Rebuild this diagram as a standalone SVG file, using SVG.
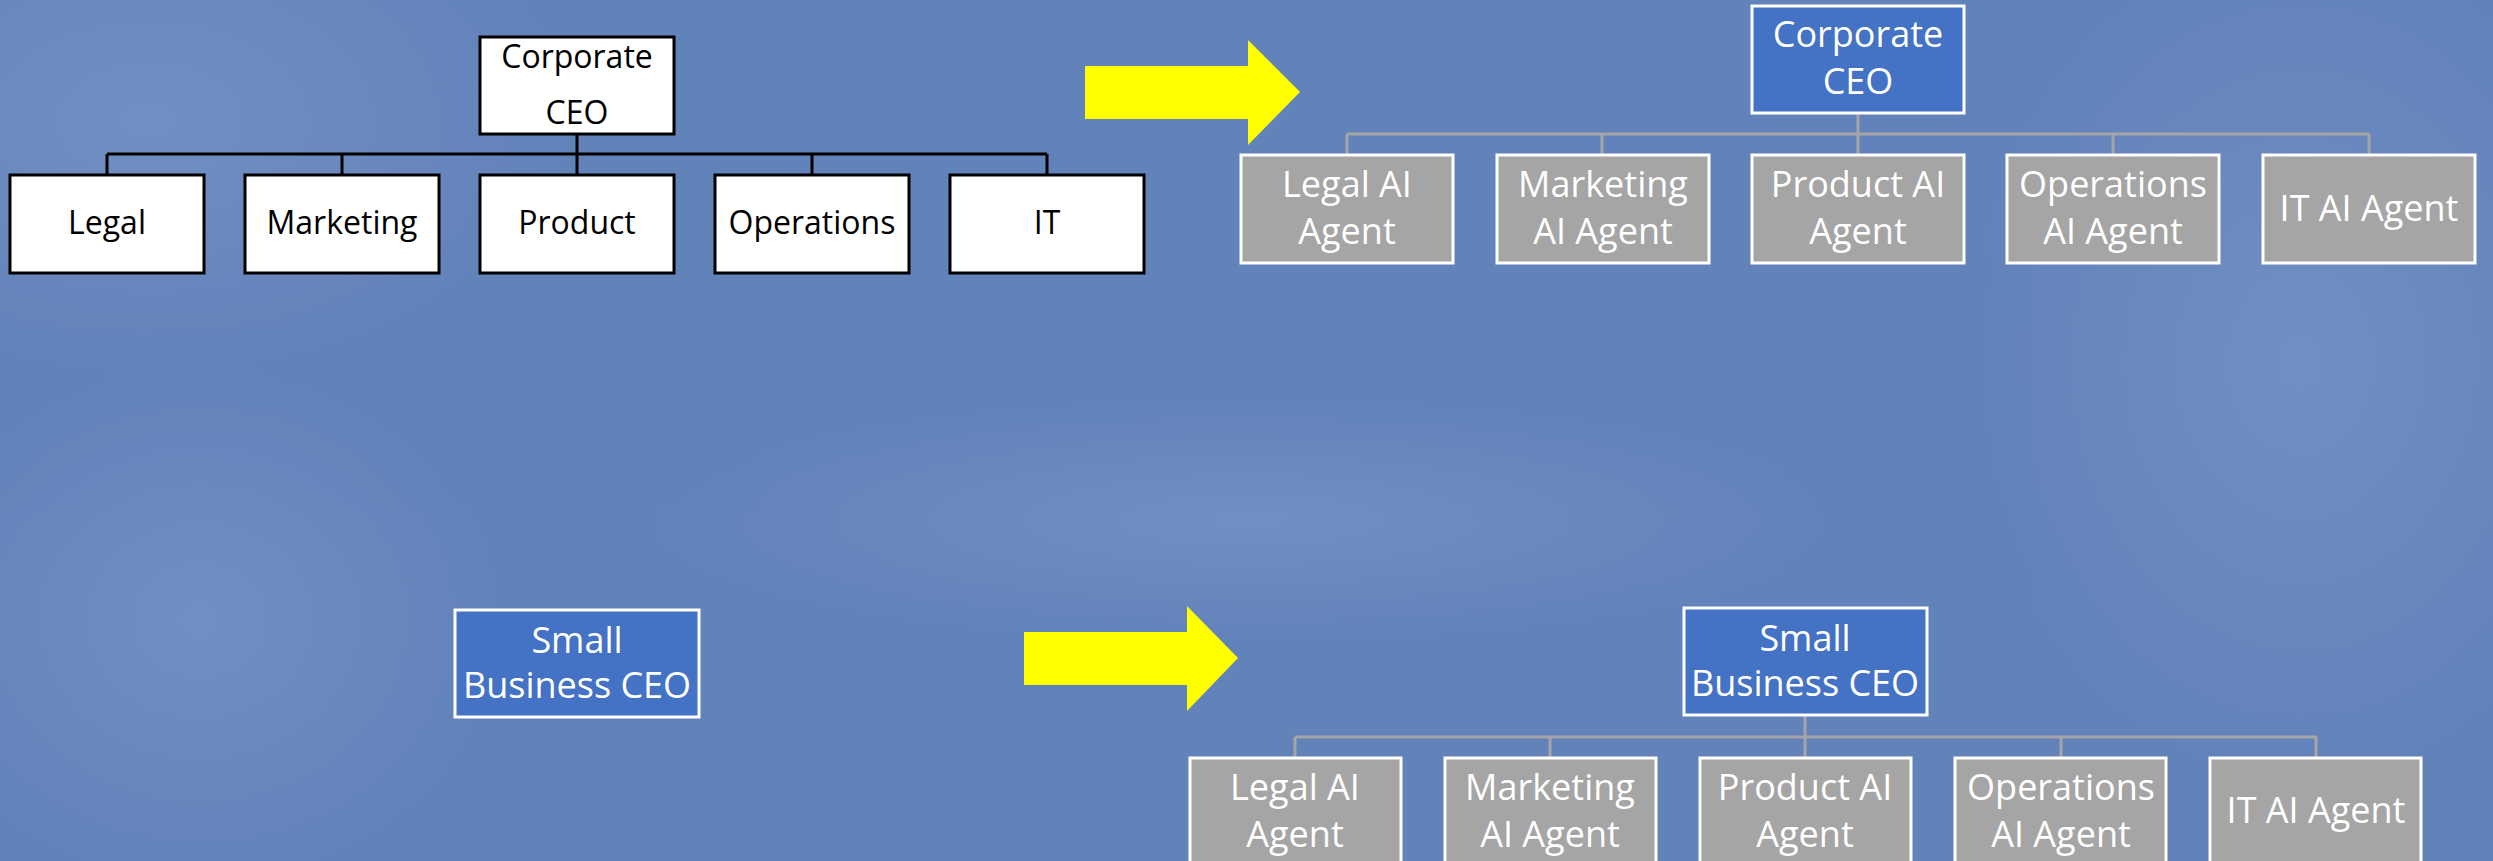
<svg xmlns="http://www.w3.org/2000/svg" width="2493" height="861" viewBox="0 0 2493 861">
<defs>
<style>
.bg{fill:#6282BA}
.wbox{fill:#FFFFFF;stroke:#000000;stroke-width:3}
.bbox{fill:#4472C4;stroke:#FFFFFF;stroke-width:3}
.gbox{fill:#A5A5A5;stroke:#FFFFFF;stroke-width:3}
.blk{stroke:#000000;stroke-width:3;fill:none}
.gry{stroke:#A5A5A5;stroke-width:3;fill:none}
.arrow{fill:#FFFF00}
text{font-family:"Open Sans","Liberation Sans",sans-serif;text-anchor:middle}
.tb{fill:#000000;font-size:32px}
.tw{fill:#FFFFFF;font-size:36px}
</style>
<radialGradient id="g1" cx="0.5" cy="0.5" r="0.5">
<stop offset="0" stop-color="#8FA9D6" stop-opacity="0.55"/>
<stop offset="1" stop-color="#8FA9D6" stop-opacity="0"/>
</radialGradient>
</defs>
<rect class="bg" x="0" y="0" width="2493" height="861"/>
<g id="background" opacity="0.6">
<ellipse cx="150" cy="120" rx="420" ry="260" fill="url(#g1)"/>
<ellipse cx="200" cy="620" rx="300" ry="260" fill="url(#g1)"/>
<ellipse cx="2300" cy="360" rx="330" ry="420" fill="url(#g1)"/>
<ellipse cx="1250" cy="520" rx="600" ry="120" fill="url(#g1)"/>
</g>

<g id="connectors">
<path class="blk" d="M577 134 V154 M107 154 H1047 M107 154 V175 M342 154 V175 M577 154 V175 M812 154 V175 M1047 154 V175"/>
<path class="gry" d="M1858 113 V134 M1347 134 H2369 M1347 134 V155 M1602 134 V155 M1858 134 V155 M2113 134 V155 M2369 134 V155"/>
<path class="gry" d="M1805 715 V737 M1295 737 H2317 M1295 737 V758 M1550 737 V758 M1805 737 V758 M2061 737 V758 M2316 737 V758"/>
</g>

<g id="arrow1"><polygon class="arrow" points="1085,66 1248,66 1248,40 1300,92 1248,145 1248,119 1085,119"/></g>
<g id="arrow2"><polygon class="arrow" points="1024,632 1187,632 1187,606 1238,658 1187,711 1187,685 1024,685"/></g>

<g id="corp-ceo"><rect class="wbox" x="480" y="37" width="194" height="97"/><text class="tb" x="577" y="68">Corporate</text><text class="tb" x="577" y="124">CEO</text></g>
<g id="legal"><rect class="wbox" x="10" y="175" width="194" height="98"/><text class="tb" x="107" y="234">Legal</text></g>
<g id="marketing"><rect class="wbox" x="245" y="175" width="194" height="98"/><text class="tb" x="342" y="234">Marketing</text></g>
<g id="product"><rect class="wbox" x="480" y="175" width="194" height="98"/><text class="tb" x="577" y="234">Product</text></g>
<g id="operations"><rect class="wbox" x="715" y="175" width="194" height="98"/><text class="tb" x="812" y="234">Operations</text></g>
<g id="it"><rect class="wbox" x="950" y="175" width="194" height="98"/><text class="tb" x="1047" y="234">IT</text></g>

<g id="corp-ceo-ai"><rect class="bbox" x="1752" y="6" width="212" height="107"/><text class="tw" x="1858" y="47">Corporate</text><text class="tw" x="1858" y="94">CEO</text></g>
<g id="c-legal-ai"><rect class="gbox" x="1241" y="155" width="212" height="108"/><text class="tw" x="1347" y="197">Legal AI</text><text class="tw" x="1347" y="244">Agent</text></g>
<g id="c-marketing-ai"><rect class="gbox" x="1497" y="155" width="212" height="108"/><text class="tw" x="1603" y="197">Marketing</text><text class="tw" x="1603" y="244">AI Agent</text></g>
<g id="c-product-ai"><rect class="gbox" x="1752" y="155" width="212" height="108"/><text class="tw" x="1858" y="197">Product AI</text><text class="tw" x="1858" y="244">Agent</text></g>
<g id="c-operations-ai"><rect class="gbox" x="2007" y="155" width="212" height="108"/><text class="tw" x="2113" y="197">Operations</text><text class="tw" x="2113" y="244">AI Agent</text></g>
<g id="c-it-ai"><rect class="gbox" x="2263" y="155" width="212" height="108"/><text class="tw" x="2369" y="221">IT AI Agent</text></g>

<g id="sb-ceo"><rect class="bbox" x="455" y="610" width="244" height="107"/><text class="tw" x="577" y="653">Small</text><text class="tw" x="577" y="698">Business CEO</text></g>

<g id="sb-ceo-ai"><rect class="bbox" x="1684" y="608" width="243" height="107"/><text class="tw" x="1805" y="651">Small</text><text class="tw" x="1805" y="696">Business CEO</text></g>
<g id="s-legal-ai"><rect class="gbox" x="1190" y="758" width="211" height="108"/><text class="tw" x="1295" y="800">Legal AI</text><text class="tw" x="1295" y="847">Agent</text></g>
<g id="s-marketing-ai"><rect class="gbox" x="1445" y="758" width="211" height="108"/><text class="tw" x="1550" y="800">Marketing</text><text class="tw" x="1550" y="847">AI Agent</text></g>
<g id="s-product-ai"><rect class="gbox" x="1700" y="758" width="211" height="108"/><text class="tw" x="1805" y="800">Product AI</text><text class="tw" x="1805" y="847">Agent</text></g>
<g id="s-operations-ai"><rect class="gbox" x="1955" y="758" width="211" height="108"/><text class="tw" x="2061" y="800">Operations</text><text class="tw" x="2061" y="847">AI Agent</text></g>
<g id="s-it-ai"><rect class="gbox" x="2210" y="758" width="211" height="108"/><text class="tw" x="2316" y="823">IT AI Agent</text></g>
</svg>
